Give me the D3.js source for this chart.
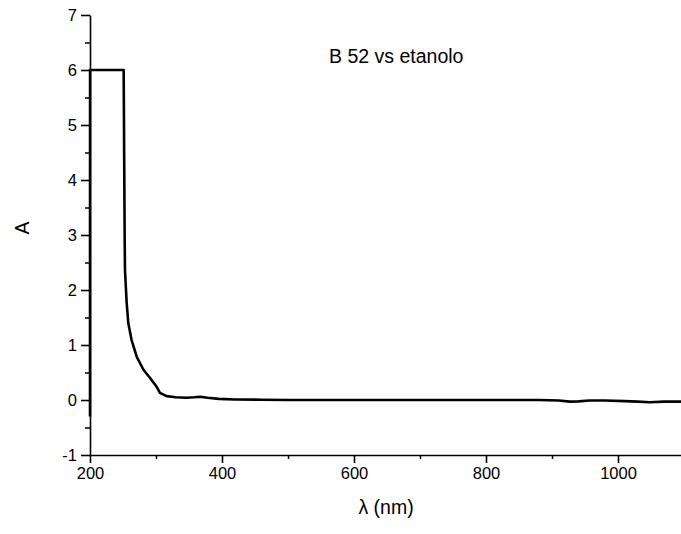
<!DOCTYPE html>
<html>
<head>
<meta charset="utf-8">
<script src="https://cdn.jsdelivr.net/npm/d3@7"></script>
<style>
  html, body { margin: 0; padding: 0; background: #fff; }
  svg { display: block; font-family: Arial, "Liberation Sans", sans-serif; }
</style>
</head>
<body>
<svg id="chart" width="681" height="534"></svg>
<script>
// ---- data ----
const wavelength = [200, 200.1, 250, 251, 252.5, 253, 255.6, 258, 263, 271, 281, 291, 301, 306, 316, 330, 346, 358, 367, 378, 395, 420, 460, 500, 600, 700, 800, 880, 910, 927, 940, 957, 980, 1010, 1030, 1048, 1070, 1100];
const absorbance = [-0.3, 6, 6, 6, 3.0, 2.36, 1.76, 1.40, 1.09, 0.78, 0.55, 0.40, 0.24, 0.13, 0.07, 0.05, 0.04, 0.05, 0.06, 0.04, 0.02, 0.01, 0.005, 0, 0, 0, 0, 0, -0.01, -0.03, -0.025, -0.01, -0.01, -0.02, -0.03, -0.04, -0.03, -0.03];
const xTicks = [200, 400, 600, 800, 1000];
const xMinor = [300, 500, 700, 900, 1100];
const yTicks = [-1, 0, 1, 2, 3, 4, 5, 6, 7];
const yMinor = [-0.5, 0.5, 1.5, 2.5, 3.5, 4.5, 5.5, 6.5];
const title = "B 52 vs etanolo";
const xLabel = "λ (nm)";
const yLabel = "A";

const svg = d3.select("#chart");
const x = d3.scaleLinear().domain([200, 1100]).range([90, 684]);
const y = d3.scaleLinear().domain([-1, 7]).range([455, 15]);

// minor ticks
svg.append("g").attr("transform", `translate(0,${y(-1)})`)
  .call(d3.axisBottom(x).tickValues(xMinor).tickSize(4).tickFormat(""))
  .call(g => g.select(".domain").remove())
  .call(g => g.selectAll("line").attr("stroke", "#000").attr("stroke-width", 1.5));
svg.append("g").attr("transform", `translate(${x(200)},0)`)
  .call(d3.axisLeft(y).tickValues(yMinor).tickSize(5).tickFormat(""))
  .call(g => g.select(".domain").remove())
  .call(g => g.selectAll("line").attr("stroke", "#000").attr("stroke-width", 1.5));

// major axes
const xAxis = svg.append("g").attr("transform", `translate(0,${y(-1)})`)
  .call(d3.axisBottom(x).tickValues(xTicks).tickSize(8).tickSizeOuter(0).tickPadding(4).tickFormat(d3.format("d")));
const yAxis = svg.append("g").attr("transform", `translate(${x(200)},0)`)
  .call(d3.axisLeft(y).tickValues(yTicks).tickSize(9).tickSizeOuter(0).tickPadding(4).tickFormat(d3.format("d")));
[xAxis, yAxis].forEach(g => {
  g.select(".domain").attr("stroke", "#000").attr("stroke-width", 1.6);
  g.selectAll(".tick line").attr("stroke", "#000").attr("stroke-width", 1.6);
  g.selectAll(".tick text").attr("fill", "#000").attr("font-size", 16.5)
    .attr("font-family", "Arial, 'Liberation Sans', sans-serif");
});
yAxis.selectAll(".tick text").text(d => d < 0 ? "-" + Math.abs(d) : d);

// line
const data = wavelength.map((w, i) => ({w, a: absorbance[i]}));
svg.append("path").datum(data)
  .attr("fill", "none").attr("stroke", "#000").attr("stroke-width", 2.6)
  .attr("stroke-linejoin", "round")
  .attr("d", d3.line().x(d => x(d.w)).y(d => y(d.a)));

// texts
svg.append("text").attr("x", 329).attr("y", 63).attr("font-size", 19.5).attr("fill", "#000").text(title);
svg.append("text").attr("x", 386).attr("y", 514).attr("text-anchor", "middle").attr("font-size", 19.5).attr("fill", "#000").text(xLabel);
svg.append("text").attr("transform", "translate(29,228) rotate(-90)").attr("text-anchor", "middle").attr("font-size", 19.5).attr("fill", "#000").text(yLabel);
</script>
</body>
</html>
